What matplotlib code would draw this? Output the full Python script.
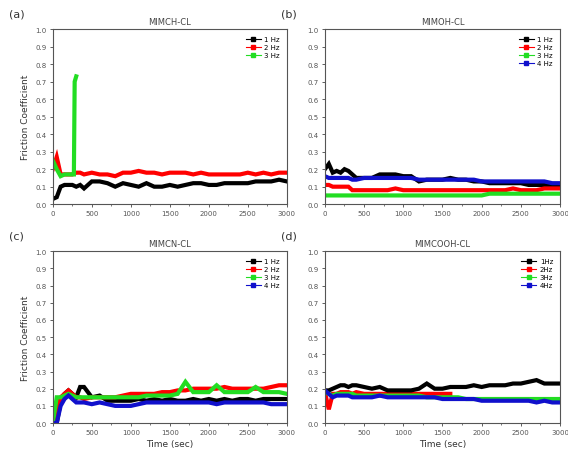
import matplotlib
matplotlib.use("Agg")
from matplotlib import pyplot as plt

# time axis (sec) used by every series
t = [0, 50, 100, 150, 200, 250, 300, 350, 400, 500, 600, 700, 800, 900, 1000,
     1100, 1200, 1300, 1400, 1500, 1600, 1700, 1800, 1900, 2000, 2100, 2200,
     2300, 2400, 2500, 2600, 2700, 2800, 2900, 3000]

# (a) MIMCH-CL
a_1hz = [0.03, 0.04, 0.10, 0.11, 0.11, 0.11, 0.10, 0.11, 0.09, 0.13, 0.13, 0.12,
         0.10, 0.12, 0.11, 0.10, 0.12, 0.10, 0.10, 0.11, 0.10, 0.11, 0.12, 0.12,
         0.11, 0.11, 0.12, 0.12, 0.12, 0.12, 0.13, 0.13, 0.13, 0.14, 0.13]
a_2hz = [0.20, 0.27, 0.17, 0.17, 0.17, 0.17, 0.18, 0.18, 0.17, 0.18, 0.17, 0.17,
         0.16, 0.18, 0.18, 0.19, 0.18, 0.18, 0.17, 0.18, 0.18, 0.18, 0.17, 0.18,
         0.17, 0.17, 0.17, 0.17, 0.17, 0.18, 0.17, 0.18, 0.17, 0.18, 0.18]
a_3hz_t = [0, 50, 100, 150, 200, 250, 270, 280, 300]
a_3hz = [0.25, 0.20, 0.16, 0.17, 0.17, 0.17, 0.17, 0.70, 0.73]

# (b) MIMOH-CL
b_1hz = [0.20, 0.23, 0.18, 0.19, 0.18, 0.20, 0.19, 0.17, 0.15, 0.15, 0.15, 0.17,
         0.17, 0.17, 0.16, 0.16, 0.13, 0.14, 0.14, 0.14, 0.15, 0.14, 0.14, 0.13,
         0.13, 0.12, 0.12, 0.12, 0.12, 0.12, 0.11, 0.11, 0.11, 0.10, 0.10]
b_2hz = [0.11, 0.11, 0.10, 0.10, 0.10, 0.10, 0.10, 0.08, 0.08, 0.08, 0.08, 0.08,
         0.08, 0.09, 0.08, 0.08, 0.08, 0.08, 0.08, 0.08, 0.08, 0.08, 0.08, 0.08,
         0.08, 0.08, 0.08, 0.08, 0.09, 0.08, 0.08, 0.08, 0.09, 0.09, 0.09]
b_3hz = [0.05, 0.05, 0.05, 0.05, 0.05, 0.05, 0.05, 0.05, 0.05, 0.05, 0.05, 0.05,
         0.05, 0.05, 0.05, 0.05, 0.05, 0.05, 0.05, 0.05, 0.05, 0.05, 0.05, 0.05,
         0.05, 0.06, 0.06, 0.06, 0.06, 0.06, 0.06, 0.06, 0.06, 0.06, 0.06]
b_4hz = [0.16, 0.15, 0.15, 0.15, 0.15, 0.15, 0.15, 0.14, 0.14, 0.15, 0.15, 0.15,
         0.15, 0.15, 0.15, 0.15, 0.14, 0.14, 0.14, 0.14, 0.14, 0.14, 0.14, 0.14,
         0.13, 0.13, 0.13, 0.13, 0.13, 0.13, 0.13, 0.13, 0.13, 0.12, 0.12]

# (c) MIMCN-CL
c_1hz = [0.00, 0.00, 0.12, 0.17, 0.19, 0.17, 0.15, 0.21, 0.21, 0.15, 0.16, 0.13,
         0.13, 0.13, 0.13, 0.14, 0.13, 0.14, 0.13, 0.14, 0.13, 0.13, 0.14, 0.13,
         0.14, 0.13, 0.14, 0.13, 0.14, 0.14, 0.13, 0.14, 0.14, 0.14, 0.14]
c_2hz = [0.00, 0.05, 0.15, 0.17, 0.19, 0.17, 0.15, 0.15, 0.14, 0.15, 0.15, 0.15,
         0.15, 0.16, 0.17, 0.17, 0.17, 0.17, 0.18, 0.18, 0.19, 0.19, 0.20, 0.20,
         0.20, 0.20, 0.21, 0.20, 0.20, 0.20, 0.20, 0.20, 0.21, 0.22, 0.22]
c_3hz = [0.00, 0.15, 0.15, 0.16, 0.17, 0.16, 0.15, 0.15, 0.15, 0.15, 0.15, 0.15,
         0.15, 0.15, 0.15, 0.15, 0.16, 0.16, 0.16, 0.16, 0.17, 0.24, 0.18, 0.18,
         0.18, 0.22, 0.18, 0.18, 0.18, 0.18, 0.21, 0.18, 0.18, 0.18, 0.17]
c_4hz = [0.00, 0.00, 0.10, 0.14, 0.16, 0.14, 0.12, 0.12, 0.12, 0.11, 0.12, 0.11,
         0.10, 0.10, 0.10, 0.11, 0.12, 0.12, 0.12, 0.12, 0.12, 0.12, 0.12, 0.12,
         0.12, 0.11, 0.12, 0.12, 0.12, 0.12, 0.12, 0.12, 0.11, 0.11, 0.11]

# (d) MIMCOOH-CL
d_1hz = [0.19, 0.19, 0.20, 0.21, 0.22, 0.22, 0.21, 0.22, 0.22, 0.21, 0.20, 0.21,
         0.19, 0.19, 0.19, 0.19, 0.20, 0.23, 0.20, 0.20, 0.21, 0.21, 0.21, 0.22,
         0.21, 0.22, 0.22, 0.22, 0.23, 0.23, 0.24, 0.25, 0.23, 0.23, 0.23]
d_2hz_t = [0, 50, 100, 150, 200, 250, 300, 350, 400, 500, 600, 700, 800, 900,
           1000, 1100, 1200, 1300, 1400, 1500, 1600]
d_2hz = [0.18, 0.08, 0.17, 0.17, 0.18, 0.18, 0.18, 0.17, 0.18, 0.17, 0.17, 0.17,
         0.17, 0.17, 0.17, 0.17, 0.17, 0.17, 0.17, 0.17, 0.17]
d_3hz = [0.18, 0.17, 0.16, 0.17, 0.17, 0.17, 0.17, 0.17, 0.16, 0.16, 0.16, 0.16,
         0.16, 0.16, 0.16, 0.16, 0.16, 0.15, 0.15, 0.15, 0.15, 0.15, 0.14, 0.14,
         0.14, 0.14, 0.14, 0.14, 0.14, 0.14, 0.14, 0.14, 0.14, 0.14, 0.14]
d_4hz = [0.19, 0.17, 0.15, 0.16, 0.16, 0.16, 0.16, 0.15, 0.15, 0.15, 0.15, 0.16,
         0.15, 0.15, 0.15, 0.15, 0.15, 0.15, 0.15, 0.14, 0.14, 0.14, 0.14, 0.14,
         0.13, 0.13, 0.13, 0.13, 0.13, 0.13, 0.13, 0.12, 0.13, 0.12, 0.12]

colors = ['black', 'red', '#22dd22', '#1010cc']

fig = plt.figure(figsize=(5.68, 4.56), dpi=100)

panels = [
    ('(a)', 'MIMCH-CL', [0.093, 0.550, 0.412, 0.384],
     [(t, a_1hz), (t, a_2hz), (a_3hz_t, a_3hz)], ['1 Hz', '2 Hz', '3 Hz']),
    ('(b)', 'MIMOH-CL', [0.572, 0.550, 0.414, 0.384],
     [(t, b_1hz), (t, b_2hz), (t, b_3hz), (t, b_4hz)],
     ['1 Hz', '2 Hz', '3 Hz', '4 Hz']),
    ('(c)', 'MIMCN-CL', [0.093, 0.070, 0.412, 0.377],
     [(t, c_1hz), (t, c_2hz), (t, c_3hz), (t, c_4hz)],
     ['1 Hz', '2 Hz', '3 Hz', '4 Hz']),
    ('(d)', 'MIMCOOH-CL', [0.572, 0.070, 0.414, 0.377],
     [(t, d_1hz), (d_2hz_t, d_2hz), (t, d_3hz), (t, d_4hz)],
     ['1Hz', '2Hz', '3Hz', '4Hz']),
]

for i, (tag, title, pos, series, labels) in enumerate(panels):
    ax = fig.add_axes(pos)
    # draw in order so that later series lie on top as in the original
    order = [1, 0, 2, 3] if i == 3 else list(range(len(series)))
    handles = [None] * len(series)
    for k in order:
        xs, ys = series[k]
        h, = ax.plot(xs, ys, color=colors[k], lw=3, solid_joinstyle='miter')
        handles[k] = h
    # legend proxies: short line with square marker
    proxies = [plt.Line2D([], [], color=colors[k], lw=0.8, marker='s', ms=2.5)
               for k in range(len(series))]
    ax.legend(proxies, labels, loc='upper right', fontsize=5, frameon=False,
              handlelength=2.2, handletextpad=0.5, labelspacing=0.3,
              borderaxespad=0.6)
    ax.set_xlim(0, 3000)
    ax.set_ylim(0, 1.0)
    ax.set_xticks(range(0, 3001, 500))
    ax.set_yticks([x / 10 for x in range(11)])
    ax.set_yticklabels(['%.1f' % (x / 10) for x in range(11)])
    ax.tick_params(labelsize=5, length=2.5, width=0.6, colors='#444444',
                   labelcolor='#555555', pad=2)
    ax.set_xticks(range(250, 3000, 500), minor=True)
    ax.tick_params(which='minor', length=1.5, width=0.5, colors='#444444')
    for s in ax.spines.values():
        s.set_linewidth(0.8)
        s.set_color('#555555')
    ax.set_title(title, fontsize=6, color='#444444', pad=4)
    fig.text(pos[0] - 0.078, pos[1] + pos[3] + 0.027, tag, fontsize=8,
             color='#333333')
    if i % 2 == 0:
        ax.set_ylabel('Friction Coefficient', fontsize=6.5, color='#333333',
                      labelpad=4)
    if i >= 2:
        ax.set_xlabel('Time (sec)', fontsize=6.5, color='#333333', labelpad=3)

fig.savefig('out.png', dpi=100)
